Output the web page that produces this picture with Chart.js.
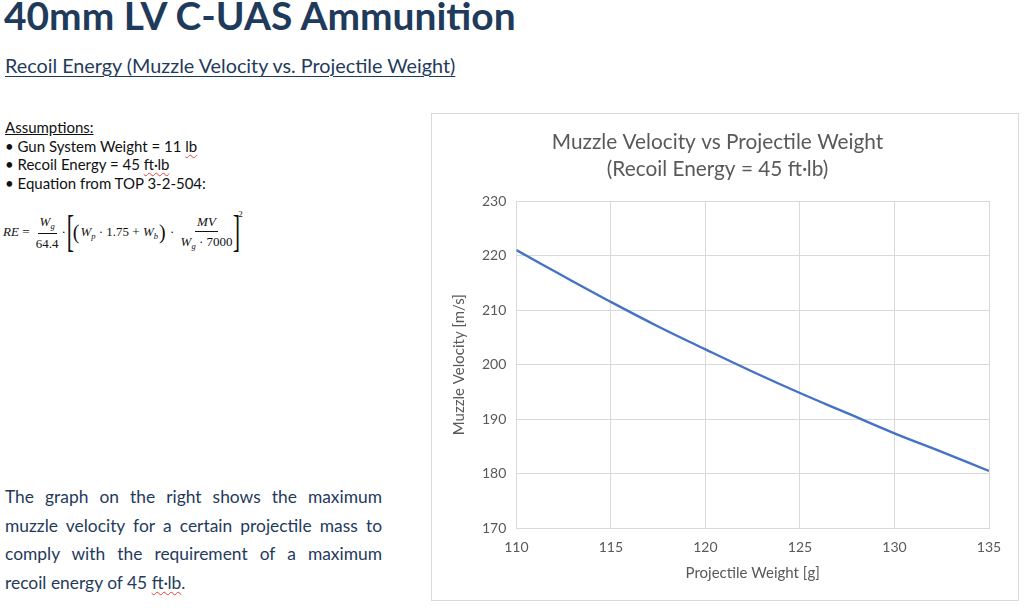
<!DOCTYPE html>
<html>
<head>
<meta charset="utf-8">
<script src="https://cdn.jsdelivr.net/npm/chart.js@4.4.1/dist/chart.umd.min.js"></script>
<style>
  html, body { margin: 0; padding: 0; background: #fff; }
  body { width: 1024px; height: 608px; position: relative; overflow: hidden; font-family: Lato, "Open Sans", sans-serif; }
  #title { position: absolute; left: 4px; top: -8px; font-size: 38.9px; font-weight: bold; color: #1f3b5c; white-space: nowrap; }
  #subtitle { position: absolute; left: 5px; top: 53px; font-size: 19.8px; text-decoration: underline; text-underline-offset: 3px; text-decoration-thickness: 1px; color: #1f3b5c; white-space: nowrap; }
  #assump { position: absolute; left: 5px; top: 118px; font-size: 15px; line-height: 18.7px; color: #111; }
  #assump .u { text-decoration: underline; }
  .sq { text-decoration: underline wavy #e04040; text-decoration-thickness: 1px; text-underline-offset: 2px; }
  #eq { position: absolute; left: 3px; top: 210px; font-family: "Liberation Serif", "DejaVu Serif", serif; font-size: 13px; color: #111; display: flex; align-items: center; white-space: nowrap; }
  #eq i { font-style: italic; }
  .frac { display: inline-flex; flex-direction: column; align-items: center; margin: 0 1px; line-height: 15px; }
  .frac .num { border-bottom: 1px solid #111; padding: 0 2px 2px; }
  .frac .den { padding: 2px 2px 0; }
  .big { font-size: 44px; line-height: 44px; transform: scaleX(0.5); display: inline-block; margin: 0 -6px; font-weight: 300; }
  .mid { font-size: 20px; display: inline-block; margin: 0 1px; }
  sup { font-size: 9px; position: relative; top: -18px; vertical-align: baseline; }
  sub { font-size: 8.5px; vertical-align: baseline; position: relative; top: 3px; }
  #para { position: absolute; left: 5px; top: 483px; width: 377px; font-size: 17.4px; line-height: 28.5px; text-align: justify; color: #1f3b5c; }
  #box { position: absolute; left: 431px; top: 113px; width: 586px; height: 486px; border: 1px solid #d9d9d9; }
  #chart { position: absolute; left: 0; top: 0; }
</style>
</head>
<body>
<div id="title">40mm LV C-UAS Ammunition</div>
<div id="subtitle">Recoil Energy (Muzzle Velocity vs. Projectile Weight)</div>
<div id="assump">
  <span class="u">Assumptions:</span><br>
  • Gun System Weight = 11 <span class="sq">lb</span><br>
  • Recoil Energy = 45 <span class="sq">ft·lb</span><br>
  • Equation from TOP 3-2-504:
</div>
<div id="eq">
  <i>RE</i>&nbsp;=&nbsp;<span class="frac"><span class="num"><i>W<sub>g</sub></i></span><span class="den">64.4</span></span>·&nbsp;<span class="big">[</span><span class="mid">(</span><i>W<sub>p</sub></i>&nbsp;·&nbsp;1.75&nbsp;+&nbsp;<i>W<sub>b</sub></i><span class="mid">)</span>&nbsp;·&nbsp;<span class="frac"><span class="num"><i>MV</i></span><span class="den"><i>W<sub>g</sub></i>&nbsp;·&nbsp;7000</span></span><span class="big">]</span><sup>2</sup>
</div>
<div id="para">The graph on the right shows the maximum muzzle velocity for a certain projectile mass to comply with the requirement of a maximum recoil energy of 45 <span class="sq">ft·lb</span>.</div>
<div id="box"><canvas id="chart" width="586" height="486"></canvas></div>
<script>
// projectile weight [g] and the max muzzle velocity [m/s]
const weights = [110, 112.5, 115, 117.5, 120, 122.5, 125, 127.5, 130, 132.5, 135];
const velocities = [221, 216.2, 211.5, 207, 202.8, 198.7, 194.8, 191.1, 187.4, 184, 180.5];

const xTicks = [110, 115, 120, 125, 130, 135];
const yTicks = [170, 180, 190, 200, 210, 220, 230];

const gray = '#595959';
const gridGray = '#d9d9d9';
const font = 'Lato, "Open Sans", sans-serif';

const ctx = document.getElementById('chart').getContext('2d');
new Chart(ctx, {
    type: 'line',
    data: {
        datasets: [{
            data: weights.map((w, i) => ({ x: w, y: velocities[i] })),
            borderColor: '#4472c4',
            borderWidth: 2.4,
            pointRadius: 0,
            tension: 0.4,
            fill: false
        }]
    },
    options: {
        responsive: false,
        animation: false,
        layout: { padding: { left: 14, right: 29, top: 0, bottom: 17 } },
        plugins: {
            legend: { display: false },
            tooltip: { enabled: false },
            title: {
                display: true,
                text: ['Muzzle Velocity vs Projectile Weight', '(Recoil Energy = 45 ft·lb)'],
                color: gray,
                font: { family: font, size: 20.8, weight: 'normal', lineHeight: 1.3 },
                padding: { top: 15, bottom: 18 }
            }
        },
        scales: {
            x: {
                type: 'linear',
                min: xTicks[0],
                max: xTicks[xTicks.length - 1],
                afterBuildTicks: axis => { axis.ticks = xTicks.map(v => ({ value: v })); },
                ticks: { color: gray, font: { family: font, size: 14 }, padding: 11 },
                grid: { color: gridGray, tickLength: 0 },
                border: { color: gridGray },
                title: { display: true, text: 'Projectile Weight [g]', color: gray, font: { family: font, size: 15, lineHeight: 0.8 }, padding: { top: 0 } }
            },
            y: {
                min: yTicks[0],
                max: yTicks[yTicks.length - 1],
                afterBuildTicks: axis => { axis.ticks = yTicks.map(v => ({ value: v })); },
                ticks: { color: gray, font: { family: font, size: 14 }, padding: 10 },
                grid: { color: gridGray, tickLength: 0 },
                border: { color: gridGray },
                title: { display: true, text: 'Muzzle Velocity [m/s]', color: gray, font: { family: font, size: 15 }, padding: { bottom: 4 } }
            }
        }
    }
});
</script>
</body>
</html>
